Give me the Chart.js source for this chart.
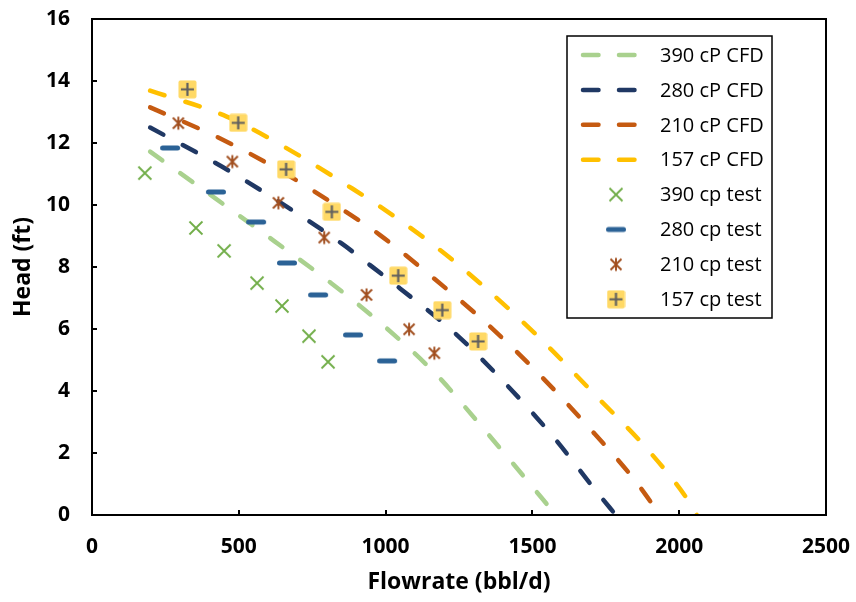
<!DOCTYPE html>
<html lang="en">
<head>
<meta charset="UTF-8">
<title>Head vs Flowrate</title>
<script src="https://cdn.jsdelivr.net/npm/chart.js@4.4.1/dist/chart.umd.min.js"></script>
<style>
	html, body { margin: 0; padding: 0; background: #fff; }
	#wrap { width: 856px; height: 602px; }
</style>
</head>
<body>
	<div id="wrap"><canvas id="headchart" width="856" height="602"></canvas></div>

	<script>
		// CFD curves : flowrate (bbl/d) / head (ft)
		var cfd390Flow = [198, 419, 623, 816, 1004, 1180, 1270, 1424, 1580];
		var cfd390Head = [11.72, 10.22, 8.82, 7.47, 6.02, 4.46, 3.49, 1.77, 0];
		var cfd280Flow = [198, 442, 646, 850, 947, 1049, 1231, 1407, 1566, 1719, 1784];
		var cfd280Head = [12.5, 11.24, 10.05, 8.76, 8.06, 7.31, 5.91, 4.25, 2.58, 0.75, 0];
		var cfd210Flow = [198, 447, 657, 873, 981, 1157, 1344, 1520, 1685, 1844, 1935];
		var cfd210Head = [13.15, 12.10, 11.02, 9.73, 9.03, 7.69, 6.18, 4.57, 2.90, 1.18, 0];
		var cfd157Flow = [198, 459, 674, 885, 981, 1185, 1367, 1549, 1719, 1889, 2037, 2060];
		var cfd157Head = [13.69, 12.85, 11.77, 10.54, 9.95, 8.55, 7.10, 5.48, 3.82, 2.15, 0.38, 0];

		// test points
		var test390Flow = [180, 354, 450, 562, 647, 739, 804];
		var test390Head = [11.03, 9.26, 8.52, 7.48, 6.74, 5.77, 4.94];
		var test280Flow = [266, 422, 559, 664, 770, 889, 1005];
		var test280Head = [11.84, 10.42, 9.45, 8.13, 7.10, 5.81, 4.97];
		var test210Flow = [294, 478, 635, 791, 935, 1080, 1166];
		var test210Head = [12.64, 11.40, 10.07, 8.95, 7.10, 5.99, 5.22];
		var test157Flow = [325, 498, 661, 817, 1043, 1193, 1315];
		var test157Head = [13.73, 12.65, 11.15, 9.78, 7.72, 6.61, 5.60];

		var xTicks = [0, 500, 1000, 1500, 2000, 2500];
		var yTicks = [0, 2, 4, 6, 8, 10, 12, 14, 16];

		var FONT = '"Open Sans", "Noto Sans", sans-serif';

		function pairs(xs, ys) {
			var out = [];
			for (var i = 0; i < xs.length; ++i) {
				out.push({ x : xs[i], y : ys[i] });
			}
			return out;
		}

		// small canvases used as point styles
		function mark(w, h, draw) {
			var c = document.createElement('canvas');
			c.width = w;
			c.height = h;
			var g = c.getContext('2d');
			draw(g, w, h);
			return c;
		}

		var xMark = mark(16, 16, function(g) {
			g.strokeStyle = '#70AD47';
			g.lineWidth = 1.8;
			g.beginPath();
			g.moveTo(1.5, 1.5); g.lineTo(14.5, 14.5);
			g.moveTo(14.5, 1.5); g.lineTo(1.5, 14.5);
			g.stroke();
		});

		var dashMark = mark(24, 8, function(g) {
			g.strokeStyle = '#2B6296';
			g.lineWidth = 5;
			g.lineCap = 'round';
			g.beginPath();
			g.moveTo(4.5, 4); g.lineTo(19.5, 4);
			g.stroke();
		});

		var starMark = mark(16, 16, function(g) {
			g.strokeStyle = '#A14E1E';
			g.lineWidth = 1.9;
			g.beginPath();
			g.moveTo(8, 1.5); g.lineTo(8, 14.5);
			g.moveTo(2.5, 2.5); g.lineTo(13.5, 13.5);
			g.moveTo(13.5, 2.5); g.lineTo(2.5, 13.5);
			g.stroke();
		});

		var plusMark = mark(19, 19, function(g) {
			g.fillStyle = '#FFD966';
			g.beginPath();
			g.roundRect(0.5, 0.5, 18, 18, 2);
			g.fill();
			g.strokeStyle = '#5F5F5F';
			g.lineWidth = 2.2;
			g.beginPath();
			g.moveTo(9.5, 3); g.lineTo(9.5, 16);
			g.moveTo(3, 9.5); g.lineTo(16, 9.5);
			g.stroke();
		});

		function cfdSet(label, xs, ys, color) {
			return {
				label : label,
				data : pairs(xs, ys),
				showLine : true,
				borderColor : color,
				backgroundColor : color,
				borderWidth : 4.5,
				borderDash : [15, 22],
				borderCapStyle : 'round',
				tension : 0.4,
				cubicInterpolationMode : 'monotone',
				pointRadius : 0,
				order : 2
			};
		}

		function testSet(label, xs, ys, img) {
			return {
				label : label,
				data : pairs(xs, ys),
				showLine : false,
				pointStyle : img,
				pointRadius : 8,
				order : 1
			};
		}

		// keep the plot box where the layout padding puts it
		function noScalePadding(s) {
			s.paddingTop = 0;
			s.paddingBottom = 0;
			s.paddingLeft = 0;
			s.paddingRight = 0;
		}

		// frame around the plot area
		var plotFrame = {
			id : 'plotFrame',
			afterDatasetsDraw : function(chart) {
				var a = chart.chartArea, ctx = chart.ctx;
				ctx.save();
				ctx.strokeStyle = '#000';
				ctx.lineWidth = 2;
				ctx.strokeRect(a.left, a.top, a.right - a.left, a.bottom - a.top);
				ctx.restore();
			}
		};

		// boxed legend in the upper right of the plot
		var boxLegend = {
			id : 'boxLegend',
			afterDraw : function(chart) {
				var ctx = chart.ctx;
				var x0 = 567, y0 = 36, w = 205, h = 282;
				ctx.save();
				ctx.fillStyle = '#fff';
				ctx.fillRect(x0, y0, w, h);
				ctx.strokeStyle = '#000';
				ctx.lineWidth = 1.5;
				ctx.strokeRect(x0, y0, w, h);
				ctx.font = '20px ' + FONT;
				ctx.textBaseline = 'middle';
				ctx.textAlign = 'left';
				chart.data.datasets.forEach(function(ds, i) {
					var cy = y0 + 19 + i * 34.9;
					if (ds.showLine) {
						ctx.strokeStyle = ds.borderColor;
						ctx.lineWidth = 4.5;
						ctx.lineCap = 'round';
						ctx.beginPath();
						ctx.moveTo(583, cy); ctx.lineTo(598.5, cy);
						ctx.moveTo(619, cy); ctx.lineTo(634.5, cy);
						ctx.stroke();
					} else {
						var img = ds.pointStyle;
						ctx.drawImage(img, 616 - img.width / 2, cy - img.height / 2);
					}
					ctx.fillStyle = '#000';
					ctx.fillText(ds.label, 660, cy + 1);
				});
				ctx.restore();
			}
		};

		var ctx1 = document.getElementById('headchart').getContext('2d');
		var chart1 = new Chart(ctx1, {
			type : 'scatter',
			data : {
				datasets : [
					cfdSet('390 cP CFD', cfd390Flow, cfd390Head, '#A9D18E'),
					cfdSet('280 cP CFD', cfd280Flow, cfd280Head, '#203864'),
					cfdSet('210 cP CFD', cfd210Flow, cfd210Head, '#C55A11'),
					cfdSet('157 cP CFD', cfd157Flow, cfd157Head, '#FFC000'),
					testSet('390 cp test', test390Flow, test390Head, xMark),
					testSet('280 cp test', test280Flow, test280Head, dashMark),
					testSet('210 cp test', test210Flow, test210Head, starMark),
					testSet('157 cp test', test157Flow, test157Head, plusMark)
				]
			},
			options : {
				responsive : false,
				animation : false,
				layout : { padding : { top : 19, right : 30, left : 0, bottom : 0 } },
				plugins : {
					legend : { display : false },
					tooltip : { enabled : false }
				},
				scales : {
					x : {
						type : 'linear',
						min : 0,
						max : 2500,
						afterBuildTicks : function(s) {
							s.ticks = xTicks.map(function(v) { return { value : v }; });
						},
						afterFit : function(s) {
							s.height = 87;
							noScalePadding(s);
						},
						border : { display : false },
						grid : {
							drawOnChartArea : false,
							drawTicks : true,
							tickLength : -5,
							color : '#000',
							lineWidth : 2
						},
						ticks : {
							padding : 24,
							color : '#000',
							callback : function(v) { return String(v); },
							font : { family : FONT, size : 21, weight : 'bold' }
						},
						title : {
							display : true,
							text : 'Flowrate (bbl/d)',
							color : '#000',
							padding : { top : 0, bottom : 6 },
							font : { family : FONT, size : 23, weight : 'bold' }
						}
					},
					y : {
						type : 'linear',
						min : 0,
						max : 16,
						afterBuildTicks : function(s) {
							s.ticks = yTicks.map(function(v) { return { value : v }; });
						},
						afterFit : function(s) {
							s.width = 92;
							noScalePadding(s);
						},
						border : { display : false },
						grid : {
							drawOnChartArea : false,
							drawTicks : true,
							tickLength : -5,
							color : '#000',
							lineWidth : 2
						},
						ticks : {
							padding : 27,
							color : '#000',
							callback : function(v) { return String(v); },
							font : { family : FONT, size : 21, weight : 'bold' }
						},
						title : {
							display : true,
							text : 'Head (ft)',
							color : '#000',
							padding : { top : 10, bottom : 0 },
							font : { family : FONT, size : 23, weight : 'bold' }
						}
					}
				}
			},
			plugins : [ plotFrame, boxLegend ]
		});
	</script>
</body>
</html>
